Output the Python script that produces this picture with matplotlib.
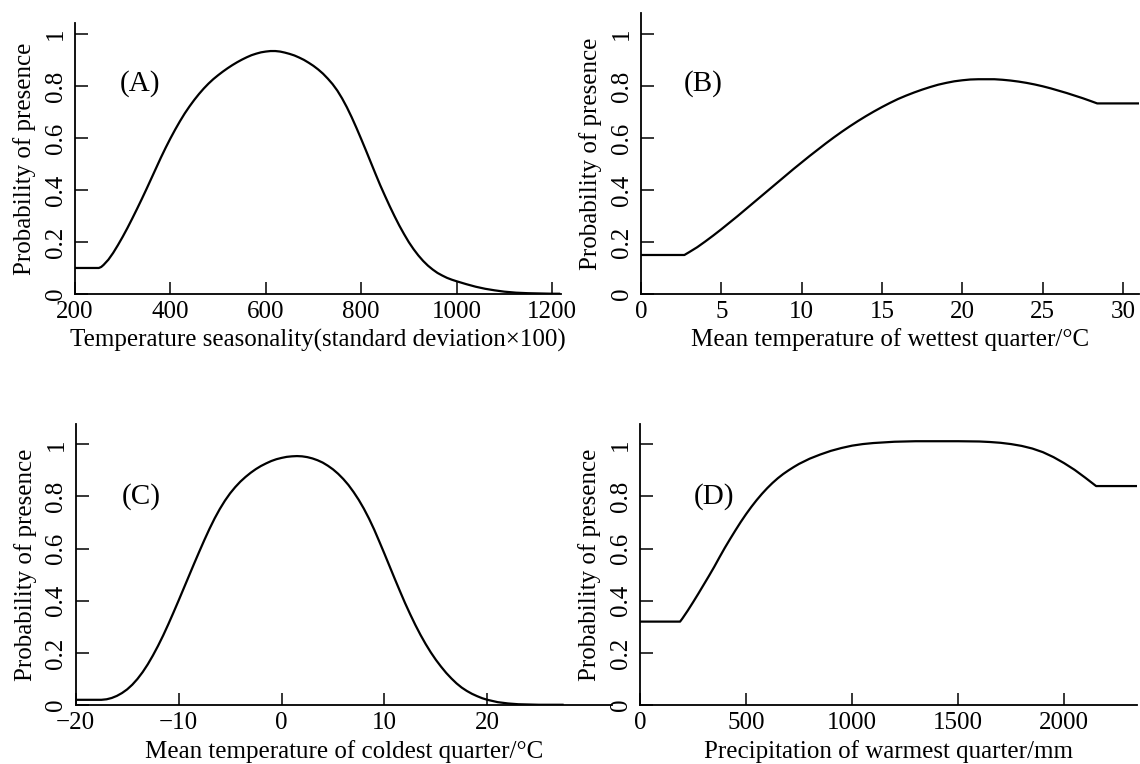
import matplotlib
matplotlib.use("Agg")
import matplotlib.pyplot as plt

plt.rcParams['font.family'] = ['Liberation Serif', 'DejaVu Serif']
plt.rcParams['axes.unicode_minus'] = True

# ---------------- data ----------------
a_x = [200, 250, 255, 260, 270, 280, 290, 300, 310, 320, 330, 340, 350, 360, 370, 380, 390, 400,
       410, 420, 430, 440, 450, 460, 470, 480, 490, 500, 510, 520, 530, 540, 550, 560, 570, 580,
       590, 600, 610, 620, 630, 640, 650, 660, 670, 680, 690, 700, 710, 720, 730, 740, 750, 760,
       770, 780, 790, 800, 810, 820, 830, 840, 850, 860, 870, 880, 890, 900, 910, 920, 930, 940,
       950, 960, 970, 980, 990, 1000, 1020, 1040, 1060, 1080, 1100, 1125, 1150, 1175, 1200, 1215]
a_y = [0.100, 0.100, 0.104, 0.112, 0.132, 0.158, 0.188, 0.220, 0.254, 0.290, 0.327, 0.365, 0.404,
       0.444, 0.484, 0.524, 0.562, 0.598, 0.632, 0.664, 0.694, 0.721, 0.746, 0.769, 0.790, 0.809,
       0.826, 0.841, 0.855, 0.868, 0.880, 0.891, 0.901, 0.910, 0.918, 0.924, 0.929, 0.932, 0.934,
       0.934, 0.932, 0.928, 0.923, 0.917, 0.909, 0.900, 0.889, 0.877, 0.863, 0.847, 0.828, 0.807,
       0.782, 0.752, 0.718, 0.680, 0.639, 0.596, 0.552, 0.507, 0.462, 0.418, 0.377, 0.337, 0.299,
       0.263, 0.230, 0.199, 0.172, 0.148, 0.127, 0.109, 0.094, 0.081, 0.071, 0.062, 0.055, 0.049,
       0.038, 0.028, 0.020, 0.014, 0.009, 0.005, 0.003, 0.002, 0.001, 0.001]

b_x = [0, 2.7, 3.0, 3.5, 4.0, 4.5, 5.0, 5.5, 6.0, 6.5, 7.0, 7.5, 8.0, 8.5, 9.0, 9.5, 10.0, 10.5,
       11.0, 11.5, 12.0, 12.5, 13.0, 13.5, 14.0, 14.5, 15.0, 15.5, 16.0, 16.5, 17.0, 17.5, 18.0,
       18.5, 19.0, 19.5, 20.0, 20.5, 21.0, 21.5, 22.0, 22.5, 23.0, 23.5, 24.0, 24.5, 25.0, 25.5,
       26.0, 26.5, 27.0, 27.5, 28.0, 28.4, 31.0]
b_y = [0.150, 0.150, 0.161, 0.180, 0.202, 0.225, 0.249, 0.274, 0.299, 0.325, 0.351, 0.377, 0.403,
       0.429, 0.455, 0.481, 0.506, 0.531, 0.555, 0.579, 0.602, 0.624, 0.645, 0.665, 0.684, 0.702,
       0.719, 0.735, 0.750, 0.763, 0.775, 0.786, 0.796, 0.805, 0.812, 0.818, 0.822, 0.825, 0.826,
       0.826, 0.826, 0.824, 0.821, 0.817, 0.812, 0.806, 0.799, 0.791, 0.782, 0.773, 0.763, 0.753,
       0.742, 0.733, 0.733]

c_x = [-20, -17.5, -17, -16.5, -16, -15.5, -15, -14.5, -14, -13.5, -13, -12.5, -12, -11.5, -11,
       -10.5, -10, -9.5, -9, -8.5, -8, -7.5, -7, -6.5, -6, -5.5, -5, -4.5, -4, -3.5, -3, -2.5, -2,
       -1.5, -1, -0.5, 0, 0.5, 1, 1.5, 2, 2.5, 3, 3.5, 4, 4.5, 5, 5.5, 6, 6.5, 7, 7.5, 8, 8.5, 9,
       9.5, 10, 10.5, 11, 11.5, 12, 12.5, 13, 13.5, 14, 14.5, 15, 15.5, 16, 16.5, 17, 17.5, 18,
       18.5, 19, 19.5, 20, 21, 22, 23, 24, 25, 27.3]
c_y = [0.020, 0.020, 0.022, 0.027, 0.035, 0.046, 0.060, 0.078, 0.100, 0.126, 0.156, 0.190, 0.227,
       0.267, 0.310, 0.355, 0.401, 0.448, 0.495, 0.542, 0.588, 0.633, 0.676, 0.716, 0.752, 0.784,
       0.812, 0.836, 0.857, 0.875, 0.891, 0.905, 0.917, 0.927, 0.936, 0.943, 0.948, 0.952, 0.954,
       0.955, 0.954, 0.951, 0.946, 0.939, 0.930, 0.918, 0.904, 0.887, 0.867, 0.844, 0.817, 0.787,
       0.753, 0.715, 0.673, 0.627, 0.580, 0.532, 0.484, 0.437, 0.391, 0.348, 0.307, 0.269, 0.234,
       0.202, 0.173, 0.147, 0.123, 0.102, 0.083, 0.067, 0.054, 0.043, 0.034, 0.026, 0.020, 0.011,
       0.006, 0.003, 0.002, 0.001, 0.001]

d_x = [0, 189, 200, 225, 250, 275, 300, 325, 350, 375, 400, 425, 450, 475, 500, 525, 550, 575,
       600, 625, 650, 675, 700, 725, 750, 775, 800, 850, 900, 950, 1000, 1050, 1100, 1200, 1300,
       1400, 1500, 1600, 1650, 1700, 1750, 1800, 1850, 1900, 1950, 2000, 2050, 2100, 2151, 2344]
d_y = [0.320, 0.320, 0.332, 0.362, 0.394, 0.427, 0.461, 0.495, 0.530, 0.567, 0.603, 0.637, 0.670,
       0.702, 0.732, 0.760, 0.786, 0.810, 0.832, 0.852, 0.870, 0.886, 0.900, 0.913, 0.925, 0.935,
       0.945, 0.961, 0.975, 0.986, 0.995, 1.001, 1.005, 1.010, 1.012, 1.012, 1.012, 1.011, 1.009,
       1.006, 1.001, 0.994, 0.984, 0.970, 0.951, 0.928, 0.902, 0.872, 0.840, 0.840]

y_ticks = [0, 0.2, 0.4, 0.6, 0.8, 1]
y_ticklabels = ["0", "0.2", "0.4", "0.6", "0.8", "1"]
ylabel = "Probability of presence"

panels = [
    dict(x=a_x, y=a_y, letter="(A)", xticks=[200, 400, 600, 800, 1000, 1200],
         xlabel="Temperature seasonality(standard deviation\u00d7100)",
         rect=[0.0658, 0.6152, 0.4263, 0.3551], xlim=(200, 1219), ylim=(0, 1.043), lpos=(336, 0.81)),
    dict(x=b_x, y=b_y, letter="(B)", xticks=[0, 5, 10, 15, 20, 25, 30],
         xlabel="Mean temperature of wettest quarter/\u00b0C",
         rect=[0.5623, 0.6152, 0.4368, 0.3682], xlim=(0, 31.0), ylim=(0, 1.082), lpos=(3.86, 0.81)),
    dict(x=c_x, y=c_y, letter="(C)", xticks=[-20, -10, 0, 10, 20],
         xlabel="Mean temperature of coldest quarter/\u00b0C",
         rect=[0.0664, 0.0772, 0.4704, 0.3678], xlim=(-20, 32.1), ylim=(0, 1.078), lpos=(-13.6, 0.80)),
    dict(x=d_x, y=d_y, letter="(D)", xticks=[0, 500, 1000, 1500, 2000],
         xlabel="Precipitation of warmest quarter/mm",
         rect=[0.5614, 0.0772, 0.436, 0.3678], xlim=(0, 2344), ylim=(0, 1.078), lpos=(349, 0.80)),
]

fig = plt.figure(figsize=(11.4, 7.64), dpi=100)

for p in panels:
    ax = fig.add_axes(p["rect"])
    ax.plot(p["x"], p["y"], color="black", lw=1.6, solid_joinstyle="round")
    ax.set_xlim(*p["xlim"])
    ax.set_ylim(*p["ylim"])
    ax.spines["top"].set_visible(False)
    ax.spines["right"].set_visible(False)
    for s in ("left", "bottom"):
        ax.spines[s].set_linewidth(1.3)
    ax.set_xticks(p["xticks"])
    ax.set_yticks(y_ticks)
    ax.set_yticklabels(y_ticklabels)
    ax.tick_params(axis="both", direction="in", length=9, width=1.1, labelsize=18, pad=5)
    ax.tick_params(axis="y", labelrotation=90, pad=6)
    for lab in ax.get_yticklabels():
        lab.set_va("center")
        lab.set_ha("right")
    ax.set_xlabel(p["xlabel"], fontsize=18, labelpad=4)
    ax.set_ylabel(ylabel, fontsize=18, labelpad=6)
    ax.text(p["lpos"][0], p["lpos"][1], p["letter"], fontsize=21, ha="center", va="center")

fig.savefig("out.png", dpi=100)
